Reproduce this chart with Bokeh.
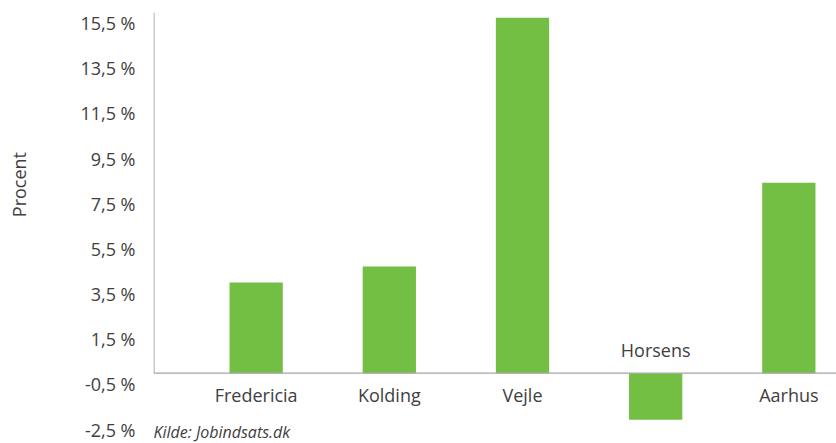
import math
from bokeh.plotting import figure
from bokeh.layouts import row
from bokeh.models import Span, LabelSet, ColumnDataSource, FixedTicker, Range1d
from bokeh.embed import file_html
from bokeh.resources import INLINE
from bokeh.core.properties import value

# ---- data ----
categories = ["Fredericia", "Kolding", "Vejle", "Horsens", "Aarhus"]
values = [4.02, 4.72, 15.73, -2.06, 8.43]
y_ticks = [-2.5, -0.5, 1.5, 3.5, 5.5, 7.5, 9.5, 11.5, 13.5, 15.5]
y_tick_labels = ["-2,5 %", "-0,5 %", "1,5 %", "3,5 %", "5,5 %",
                 "7,5 %", "9,5 %", "11,5 %", "13,5 %", "15,5 %"]
y_title = "Procent"
source_note = "Kilde: Jobindsats.dk"

# ---- style / layout ----
W, H = 836, 443
W_LEFT = 40
BAR = "#72bf44"
AXIS = "#a6a6a6"
TXT = "#404040"
FONT = "Open Sans"

x_start, x_end = -0.7708, 4.3578
y_start, y_end = -3.112, 15.967
yr = Range1d(y_start, y_end)

xs = list(range(len(categories)))

# narrow strip holding the rotated y title
p0 = figure(width=W_LEFT, height=H, output_backend="svg", toolbar_location=None,
            x_range=(0, W_LEFT), y_range=yr, x_axis_type=None, y_axis_type=None,
            min_border_left=0, min_border_right=0, min_border_top=12, min_border_bottom=0)
p0.outline_line_color = None
p0.xgrid.visible = False
p0.ygrid.visible = False
p0.text(x=[18], y=[8.35], text=[y_title], angle=math.pi / 2,
        text_align="center", text_baseline="middle",
        text_font=value(FONT), text_font_size="18px", text_color=TXT)

p = figure(width=W - W_LEFT, height=H, output_backend="svg", toolbar_location=None,
           x_range=(x_start, x_end), y_range=yr,
           x_axis_type=None, min_border_left=153 - W_LEFT, min_border_right=0,
           min_border_top=12, min_border_bottom=0)
p.outline_line_color = None
p.xgrid.visible = False
p.ygrid.visible = False
p.background_fill_color = "white"
p.border_fill_color = "white"

ax = p.yaxis[0]
ax.ticker = FixedTicker(ticks=y_ticks)
ax.major_label_overrides = {t: l for t, l in zip(y_ticks, y_tick_labels)}
ax.axis_line_color = None
ax.major_tick_line_color = None
ax.minor_tick_line_color = None
ax.major_tick_out = 0
ax.major_tick_in = 0
ax.major_label_standoff = 18
ax.major_label_text_font = FONT
ax.major_label_text_font_size = "18px"
ax.major_label_text_color = TXT

# bars
src = ColumnDataSource(dict(
    x=xs, top=values, zero=[0] * len(xs), name=categories,
    off=[-29 if v >= 0 else 16 for v in values]))
p.vbar(x="x", top="top", bottom=0, width=0.4, source=src,
       fill_color=BAR, line_color=None)

# axis lines
p.add_layout(Span(location=0, dimension="width", line_color=AXIS, line_width=1.2))
vx = x_start + 0.5 / 133.175
p.segment(x0=[vx], y0=[0], x1=[vx], y1=[y_end],
          line_color=AXIS, line_width=1.2)

# category labels (opposite side of the bar)
p.add_layout(LabelSet(x="x", y="zero", text="name", y_offset="off", source=src,
                      text_align="center", text_baseline="alphabetic",
                      text_font=value(FONT), text_font_size="18px", text_color=TXT))

# source note
p.text(x=[x_start], y=[-2.60], text=[source_note],
       text_align="left", text_baseline="alphabetic",
       text_font=value(FONT), text_font_style="italic",
       text_font_size="16px", text_color=TXT)

layout = row(p0, p)
open("out.html", "w").write(file_html(layout, INLINE))
